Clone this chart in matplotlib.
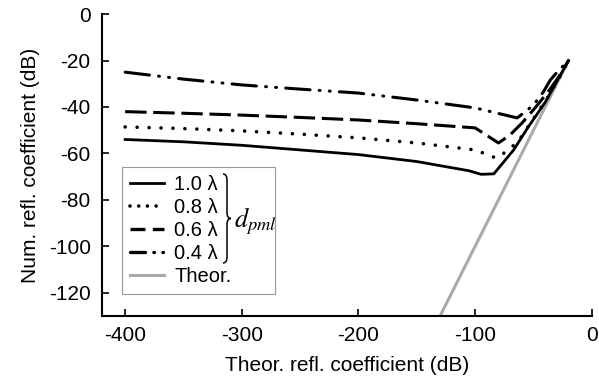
import matplotlib
matplotlib.use("Agg")
import matplotlib.pyplot as plt
from matplotlib.lines import Line2D
from matplotlib.path import Path
from matplotlib.patches import PathPatch

plt.rcParams['font.family'] = ['Liberation Sans', 'DejaVu Sans']
plt.rcParams['mathtext.fontset'] = 'stix'
plt.rcParams['axes.unicode_minus'] = False

# theoretical reflection coefficient (dB) and numerical results per PML thickness
x_10 = [-400, -350, -300, -250, -200, -150, -105, -95, -84, -67, -55, -40, -30, -20]
y_10 = [-54, -55, -56.5, -58.5, -60.5, -63.5, -67.5, -69, -68.8, -58.5, -49, -38, -29, -20]

x_08 = [-400, -350, -300, -250, -200, -150, -100, -82, -71, -62, -50, -38, -28, -20]
y_08 = [-48.6, -49.3, -50.3, -51.7, -53.3, -55.5, -58.5, -62, -58.5, -54, -45, -36, -27.5, -20]

x_06 = [-400, -350, -300, -250, -200, -150, -100, -80, -70, -60, -48, -36, -27, -20]
y_06 = [-42, -42.7, -43.5, -44.5, -45.6, -47.2, -49, -55.5, -52, -47, -40, -32.5, -26, -20]

x_04 = [-400, -350, -300, -250, -200, -150, -100, -64, -55, -48, -41.5, -35.6, -28, -20]
y_04 = [-25, -28, -30.5, -32.3, -34, -37, -40.4, -44.7, -41.3, -37.8, -33.5, -28.4, -24, -20]

x_theor = [-130, -20]
y_theor = [-130, -20]

labels = ['1.0 λ', '0.8 λ', '0.6 λ', '0.4 λ', 'Theor.']

fig = plt.figure(figsize=(5.99, 3.82), dpi=100)
ax = fig.add_axes([0.170, 0.173, 0.818, 0.790])

ax.plot(x_theor, y_theor, color='#aaaaaa', lw=2.2, solid_capstyle='round', zorder=2)
ax.plot(x_10, y_10, color='black', lw=2, zorder=3)
ax.plot(x_08, y_08, color='black', lw=2.6, linestyle=(0, (0.01, 3.3)),
        dash_capstyle='round', zorder=3)
ax.plot(x_06, y_06, color='black', lw=2.2, linestyle=(0, (7, 2.2)), zorder=3)
ax.plot(x_04, y_04, color='black', lw=2.2, linestyle=(0, (8, 3, 0.3, 3, 0.3, 3)),
        dash_capstyle='round', zorder=3)

ax.set_xlim(-420, 0)
ax.set_ylim(-130, 0)
ax.set_xticks([-400, -300, -200, -100, 0])
ax.set_yticks([0, -20, -40, -60, -80, -100, -120])
ax.tick_params(direction='in', length=5, width=1.2, labelsize=15)
ax.tick_params(axis='x', pad=7)
ax.tick_params(axis='y', pad=8)
for s in ['top', 'right']:
    ax.spines[s].set_visible(False)
for s in ['left', 'bottom']:
    ax.spines[s].set_linewidth(1.5)

ax.set_xlabel('Theor. refl. coefficient (dB)', fontsize=15, labelpad=8)
ax.set_ylabel('Num. refl. coefficient (dB)', fontsize=15, labelpad=6)

# legend handles with patterns that read well at handle length
handles = [
    Line2D([], [], color='black', lw=2),
    Line2D([], [], color='black', lw=2.6, linestyle=(0, (0.01, 2.4)), dash_capstyle='round'),
    Line2D([], [], color='black', lw=2.4, linestyle=(0, (4.5, 2.2))),
    Line2D([], [], color='black', lw=2.4, linestyle=(0, (4.5, 2.5, 0.2, 2.5, 0.2, 3)),
           dash_capstyle='round'),
    Line2D([], [], color='#aaaaaa', lw=2.2),
]
leg = ax.legend(handles, labels, loc='upper left',
                bbox_to_anchor=(0.0408, 0.056, 0.312, 0.437), mode='expand',
                fontsize=14.5, frameon=True, fancybox=False, framealpha=1,
                edgecolor='#999999', handlelength=1.7, handletextpad=0.5,
                labelspacing=0.2, borderpad=0.4, borderaxespad=0)
leg.get_frame().set_linewidth(0.8)

# curly brace grouping the PML thicknesses
def fx(px):
    return px / 599.0

def fy(py):
    return 1 - py / 382.0

bx, top, bot = 223, 174, 263
mid = (top + bot) / 2
w = 4
codes = [Path.MOVETO, Path.CURVE3, Path.CURVE3, Path.LINETO,
         Path.CURVE3, Path.CURVE3, Path.MOVETO,
         Path.CURVE3, Path.CURVE3, Path.LINETO,
         Path.CURVE3, Path.CURVE3]
verts = [(bx, top), (bx + w, top), (bx + w, top + 6), (bx + w, mid - 6),
         (bx + w, mid), (bx + 2 * w, mid), (bx + 2 * w, mid),
         (bx + w, mid), (bx + w, mid + 6), (bx + w, bot - 6),
         (bx + w, bot), (bx, bot)]
path = Path([(fx(a), fy(b)) for a, b in verts], codes)
fig.patches.append(PathPatch(path, transform=fig.transFigure, fill=False,
                             lw=1.1, edgecolor='black'))
fig.text(fx(234), fy(mid + 3), r'$d_{pml}$', fontsize=19, va='center', ha='left')

fig.savefig('out.png', dpi=100)
